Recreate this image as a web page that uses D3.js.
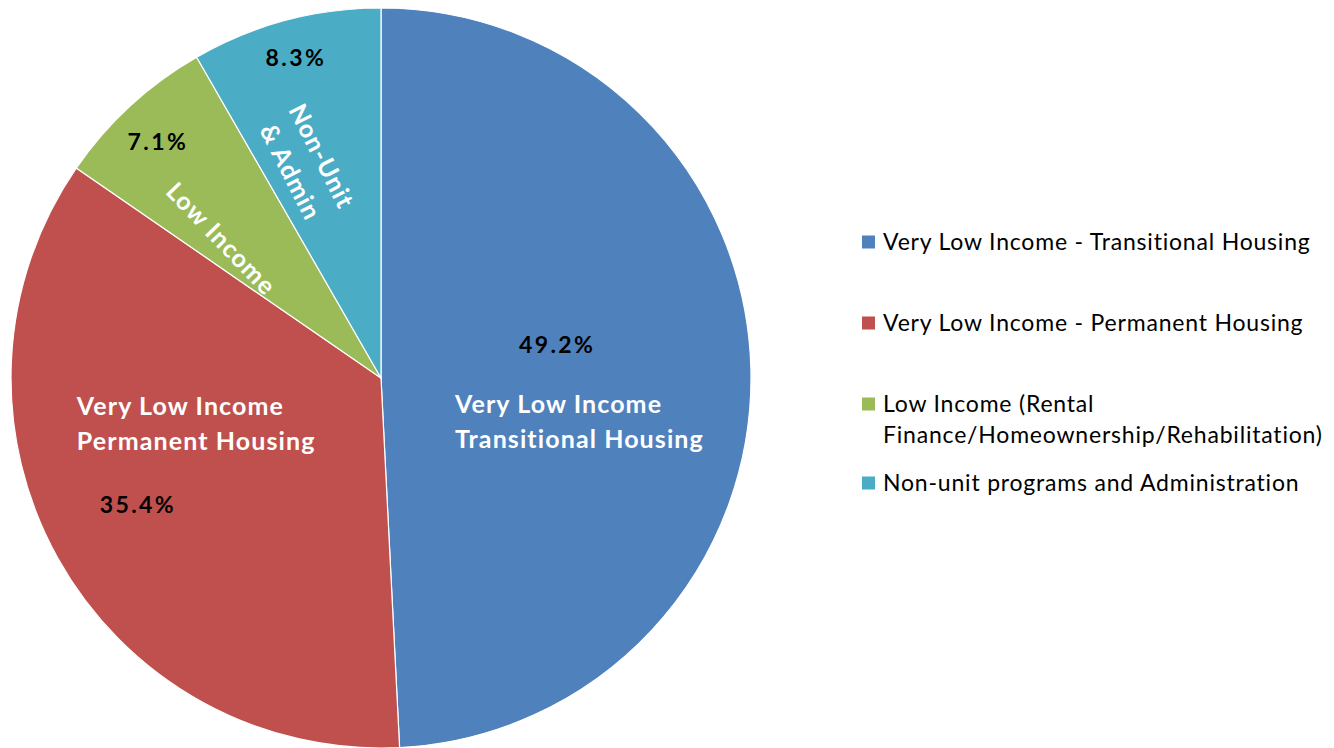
<!DOCTYPE html>
<html>
<head>
<meta charset="utf-8">
<script src="https://cdn.jsdelivr.net/npm/d3@7"></script>
<style>
  body { margin: 0; background: #fff; }
  svg text { font-family: Lato, "Open Sans", sans-serif; }
</style>
</head>
<body>
<svg id="chart" width="1334" height="748"></svg>
<script>
// data
var categories = ['Very Low Income - Transitional Housing', 'Very Low Income - Permanent Housing',
    'Low Income (Rental Finance/Homeownership/Rehabilitation)', 'Non-unit programs and Administration'];
var shares = [49.2, 35.4, 7.1, 8.3];
var colors = ['#4F81BD', '#C0504D', '#9BBB59', '#4BACC6'];
var sliceNames = [['Very Low Income', 'Transitional Housing'], ['Very Low Income', 'Permanent Housing'],
    ['Low Income'], ['Non-Unit', '& Admin']];
var legendLines = [['Very Low Income - Transitional Housing'], ['Very Low Income - Permanent Housing'],
    ['Low Income (Rental', 'Finance/Homeownership/Rehabilitation)'], ['Non-unit programs and Administration']];

/////LAYOUT/////
var cx = 381, cy = 378, radius = 370;
// label spots, as fractions of the radius from the centre
var pctSpot = [[0.476, -0.089], [-0.657, 0.343], [-0.603, -0.638], [-0.230, -0.865]];
var nameSpot = [
    { x: 0.20, y: 0.119, anchor: 'start', rot: 0 },
    { x: -0.822, y: 0.124, anchor: 'start', rot: 0 },
    { x: -0.432, y: -0.376, anchor: 'middle', rot: 46 },
    { x: -0.203, y: -0.578, anchor: 'middle', rot: 63 }
];

var svg = d3.select('#chart');
var g = svg.append('g').attr('transform', 'translate(' + cx + ',' + cy + ')');

var pie = d3.pie().sort(null).value(function (d) { return d; });
var arc = d3.arc().innerRadius(0).outerRadius(radius);

g.selectAll('path')
    .data(pie(shares))
    .enter().append('path')
    .attr('d', arc)
    .attr('fill', function (d, i) { return colors[i]; })
    .attr('stroke', '#fff')
    .attr('stroke-width', 1.2);

// percentages
g.selectAll('text.pct')
    .data(shares)
    .enter().append('text')
    .attr('class', 'pct')
    .attr('x', function (d, i) { return pctSpot[i][0] * radius; })
    .attr('y', function (d, i) { return pctSpot[i][1] * radius; })
    .attr('dy', '0.35em')
    .attr('text-anchor', 'middle')
    .style('font-size', '23px')
    .style('letter-spacing', '2.4px')
    .style('font-weight', 'bold')
    .attr('fill', '#000')
    .text(function (d) { return d.toFixed(1) + '%'; });

// names inside slices
sliceNames.forEach(function (lines, i) {
    var s = nameSpot[i];
    var t = g.append('text')
        .attr('transform', 'translate(' + (s.x * radius) + ',' + (s.y * radius) + ') rotate(' + s.rot + ')')
        .attr('text-anchor', s.anchor)
        .attr('fill', '#fff')
        .style('font-size', '25px')
        .style('letter-spacing', '1.1px')
        .style('font-weight', 'bold');
    var lh = 35, off = -(lines.length - 1) * lh / 2;
    lines.forEach(function (l, j) {
        t.append('tspan').attr('x', 0).attr('y', off + j * lh).attr('dy', '0.35em').text(l);
    });
});

/////LEGEND/////
var legendY = [242, 323, 404, 483];
var leg = svg.append('g').attr('transform', 'translate(862,0)');
categories.forEach(function (c, i) {
    leg.append('rect')
        .attr('x', 0).attr('y', legendY[i] - 6.5)
        .attr('width', 13).attr('height', 13)
        .attr('fill', colors[i]);
    var t = leg.append('text').attr('fill', '#000')
        .style('font-size', '23px')
        .style('letter-spacing', '0.8px');
    legendLines[i].forEach(function (l, j) {
        t.append('tspan').attr('x', 21).attr('y', legendY[i] + j * 31).attr('dy', '0.35em').text(l);
    });
});
</script>
</body>
</html>
